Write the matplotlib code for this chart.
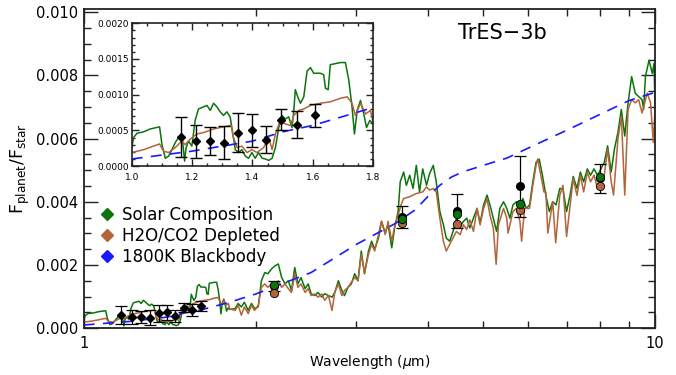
import numpy as np
import matplotlib
matplotlib.use("Agg")
import matplotlib.pyplot as plt
from matplotlib.lines import Line2D
from matplotlib.ticker import FixedLocator, MultipleLocator, NullFormatter

# solar composition model (wavelength in micron, Fp/Fs)
solar_wl = [1.000, 1.006, 1.017, 1.039, 1.061, 1.092, 1.100, 1.111, 1.122, 1.133,
            1.144, 1.155, 1.166, 1.172, 1.175, 1.180, 1.188, 1.199, 1.210, 1.221,
            1.249, 1.260, 1.271, 1.282, 1.293, 1.304, 1.315, 1.326, 1.335, 1.343,
            1.354, 1.365, 1.376, 1.387, 1.398, 1.409, 1.420, 1.432, 1.443, 1.454,
            1.465, 1.476, 1.487, 1.498, 1.509, 1.520, 1.531, 1.537, 1.542, 1.550,
            1.559, 1.570, 1.581, 1.592, 1.603, 1.625, 1.636, 1.642, 1.651, 1.658,
            1.692, 1.708, 1.719, 1.730, 1.738, 1.747, 1.758, 1.769, 1.778, 1.789,
            1.800, 1.84, 1.863, 1.887, 1.91, 1.94, 1.966, 1.99, 2.02, 2.046,
            2.074, 2.10, 2.13, 2.16, 2.19, 2.22, 2.25, 2.28, 2.31, 2.34,
            2.37, 2.40, 2.44, 2.47, 2.50, 2.54, 2.57, 2.61, 2.64, 2.68,
            2.72, 2.75, 2.79, 2.83, 2.86, 2.90, 2.94, 2.98, 3.02, 3.06,
            3.10, 3.15, 3.19, 3.23, 3.28, 3.32, 3.37, 3.41, 3.46, 3.50,
            3.55, 3.58, 3.63, 3.67, 3.72, 3.77, 3.82, 3.87, 3.92, 3.98,
            4.03, 4.09, 4.14, 4.20, 4.26, 4.31, 4.37, 4.43, 4.49, 4.56,
            4.62, 4.68, 4.74, 4.81, 4.88, 4.94, 5.01, 5.08, 5.14, 5.21,
            5.28, 5.35, 5.43, 5.50, 5.57, 5.64, 5.72, 5.80, 5.87, 5.95,
            6.03, 6.11, 6.19, 6.27, 6.35, 6.44, 6.53, 6.62, 6.71, 6.81,
            6.90, 7.00, 7.10, 7.19, 7.30, 7.40, 7.50, 7.61, 7.71, 7.82,
            7.93, 8.04, 8.15, 8.26, 8.38, 8.49, 8.61, 8.73, 8.85, 8.97,
            9.10, 9.23, 9.36, 9.49, 9.55, 9.62, 9.76, 9.89, 9.96, 10.0]
solar_fp = [0.00026, 0.00040, 0.00046, 0.00048, 0.00052, 0.00055, 0.00030, 0.00011, 0.00014, 0.00023,
            0.00033, 0.00040, 0.00045, 0.00019, 0.00007, 0.00026, 0.00035, 0.00028, 0.00064, 0.00080,
            0.00085, 0.00078, 0.00088, 0.00083, 0.00076, 0.00071, 0.00076, 0.00069, 0.00045, 0.00023,
            0.00019, 0.00023, 0.00014, 0.00011, 0.00019, 0.00011, 0.00019, 0.00011, 0.00010, 0.00008,
            0.00011, 0.00026, 0.00054, 0.00071, 0.00066, 0.00069, 0.00054, 0.00078, 0.00107, 0.00097,
            0.00088, 0.00097, 0.00133, 0.00138, 0.00130, 0.00130, 0.00128, 0.00109, 0.00107, 0.00142,
            0.00145, 0.00145, 0.00121, 0.00083, 0.00045, 0.00078, 0.00092, 0.00073, 0.00054, 0.00064,
            0.00059, 0.00062, 0.00078, 0.00067, 0.00082, 0.00056, 0.00078, 0.00062, 0.00067, 0.00150,
            0.00176, 0.00172, 0.00187, 0.00197, 0.00203, 0.00160, 0.00140, 0.00150, 0.00119, 0.00192,
            0.00140, 0.00160, 0.00125, 0.00140, 0.00109, 0.00103, 0.00113, 0.00098, 0.00109, 0.00103,
            0.00098, 0.00113, 0.00150, 0.00119, 0.00103, 0.00129, 0.00140, 0.00172, 0.00150, 0.00244,
            0.00172, 0.00244, 0.00275, 0.00250, 0.00285, 0.00338, 0.00301, 0.00328, 0.00254, 0.00317,
            0.00369, 0.00463, 0.00494, 0.00452, 0.00484, 0.00442, 0.00515, 0.00431, 0.00504, 0.00452,
            0.00489, 0.00515, 0.00463, 0.00369, 0.00328, 0.00285, 0.00275, 0.00306, 0.00348, 0.00322,
            0.00338, 0.00348, 0.00317, 0.00348, 0.00379, 0.00332, 0.00390, 0.00421, 0.00390, 0.00348,
            0.00306, 0.00379, 0.00400, 0.00379, 0.00348, 0.00390, 0.00400, 0.00384, 0.00410, 0.00379,
            0.00390, 0.00463, 0.00525, 0.00535, 0.00484, 0.00420, 0.00369, 0.00400, 0.00390, 0.00442,
            0.00440, 0.00369, 0.00421, 0.00480, 0.00442, 0.00494, 0.00463, 0.00504, 0.00484, 0.00504,
            0.00484, 0.00504, 0.00525, 0.00577, 0.00494, 0.00567, 0.00619, 0.00692, 0.00608, 0.00713,
            0.00796, 0.00744, 0.00733, 0.00723, 0.00692, 0.00796, 0.00848, 0.00806, 0.00838, 0.00692]

# H2O/CO2 depleted model
depl_wl = [1.000, 1.039, 1.072, 1.092, 1.105, 1.122, 1.144, 1.166, 1.177, 1.194,
           1.216, 1.238, 1.271, 1.304, 1.329, 1.337, 1.349, 1.365, 1.382, 1.398,
           1.415, 1.437, 1.454, 1.465, 1.476, 1.492, 1.509, 1.526, 1.537, 1.553,
           1.570, 1.592, 1.625, 1.658, 1.692, 1.714, 1.730, 1.741, 1.758, 1.775,
           1.791, 1.800, 1.84, 1.863, 1.887, 1.91, 1.94, 1.966, 1.99, 2.02,
           2.046, 2.074, 2.10, 2.13, 2.16, 2.19, 2.22, 2.25, 2.28, 2.31,
           2.34, 2.37, 2.40, 2.44, 2.47, 2.50, 2.54, 2.57, 2.61, 2.64,
           2.68, 2.72, 2.75, 2.79, 2.83, 2.86, 2.90, 2.94, 2.98, 3.02,
           3.06, 3.10, 3.15, 3.19, 3.23, 3.28, 3.32, 3.37, 3.41, 3.46,
           3.50, 3.55, 3.60, 3.63, 3.72, 3.82, 3.92, 3.98, 4.03, 4.09,
           4.14, 4.20, 4.26, 4.31, 4.37, 4.43, 4.49, 4.56, 4.62, 4.68,
           4.74, 4.81, 4.88, 4.94, 5.01, 5.08, 5.14, 5.21, 5.27, 5.32,
           5.43, 5.50, 5.53, 5.64, 5.72, 5.80, 5.84, 5.91, 6.03, 6.11,
           6.19, 6.23, 6.31, 6.39, 6.44, 6.49, 6.62, 6.70, 6.81, 6.90,
           7.00, 7.19, 7.30, 7.40, 7.50, 7.61, 7.71, 7.82, 7.93, 8.04,
           8.15, 8.26, 8.38, 8.46, 8.61, 8.73, 8.85, 8.97, 9.10, 9.23,
           9.36, 9.49, 9.62, 9.69, 9.82, 9.93, 10.0]
depl_fp = [0.00019, 0.00023, 0.00028, 0.00031, 0.00021, 0.00019, 0.00026, 0.00035, 0.00030, 0.00038,
           0.00045, 0.00047, 0.00052, 0.00055, 0.00057, 0.00040, 0.00026, 0.00028, 0.00019, 0.00023,
           0.00019, 0.00026, 0.00040, 0.00023, 0.00045, 0.00064, 0.00059, 0.00057, 0.00071, 0.00078,
           0.00080, 0.00085, 0.00088, 0.00090, 0.00095, 0.00097, 0.00088, 0.00071, 0.00088, 0.00073,
           0.00078, 0.00061, 0.00056, 0.00072, 0.00041, 0.00067, 0.00046, 0.00072, 0.00056, 0.00072,
           0.00129, 0.00140, 0.00129, 0.00140, 0.00129, 0.00150, 0.00129, 0.00140, 0.00125, 0.00113,
           0.00172, 0.00129, 0.00140, 0.00113, 0.00125, 0.00103, 0.00108, 0.00098, 0.00108, 0.00088,
           0.00103, 0.00056, 0.00113, 0.00140, 0.00103, 0.00119, 0.00129, 0.00145, 0.00160, 0.00150,
           0.00233, 0.00176, 0.00233, 0.00265, 0.00244, 0.00296, 0.00338, 0.00296, 0.00338, 0.00275,
           0.00322, 0.00358, 0.00395, 0.00410, 0.00416, 0.00426, 0.00431, 0.00447, 0.00437, 0.00442,
           0.00431, 0.00348, 0.00275, 0.00244, 0.00265, 0.00285, 0.00306, 0.00296, 0.00327, 0.00312,
           0.00343, 0.00306, 0.00379, 0.00327, 0.00379, 0.00410, 0.00358, 0.00317, 0.00202, 0.00327,
           0.00379, 0.00348, 0.00301, 0.00369, 0.00379, 0.00338, 0.00275, 0.00379, 0.00379, 0.00452,
           0.00515, 0.00535, 0.00484, 0.00431, 0.00431, 0.00301, 0.00400, 0.00270, 0.00420, 0.00452,
           0.00290, 0.00473, 0.00420, 0.00484, 0.00431, 0.00494, 0.00463, 0.00484, 0.00442, 0.00473,
           0.00484, 0.00567, 0.00463, 0.00421, 0.00598, 0.00671, 0.00421, 0.00692, 0.00723, 0.00713,
           0.00723, 0.00681, 0.00723, 0.00744, 0.00713, 0.00588, 0.00692]

# 1800K blackbody
bb_wl = [1.0, 1.2, 1.4, 1.5, 1.6, 1.8, 2.0, 2.5, 3.0, 3.5, 3.8, 4.0, 4.2, 4.4,
         4.6, 5.0, 5.5, 6.0, 7.0, 8.0, 9.0, 10.0]
bb_fp = [0.00010, 0.00021, 0.00035, 0.00048, 0.00057, 0.00082, 0.00108, 0.00176,
         0.00265, 0.00330, 0.00374, 0.00416, 0.00452, 0.00478, 0.00494, 0.00515,
         0.00538, 0.00570, 0.00626, 0.00676, 0.00720, 0.00746]

# near-IR spectrophotometry (diamonds)
nir_wl = [1.163, 1.212, 1.260, 1.306, 1.352, 1.398, 1.446, 1.496, 1.549, 1.606]
nir_fp = [0.00041, 0.00035, 0.00035, 0.00033, 0.00047, 0.00050, 0.00037, 0.00065, 0.00058, 0.00071]
nir_err = [0.00028, 0.00023, 0.00020, 0.00023, 0.00027, 0.00023, 0.00019, 0.00015, 0.00019, 0.00016]

# broadband eclipse depths (Ks + IRAC) and band-averaged models
band_wl = [2.15, 3.6, 4.5, 5.8, 8.0]
band_fp = [0.00133, 0.00352, 0.00372, 0.00449, 0.00475]
band_err = [0.00017, 0.00035, 0.00054, 0.00097, 0.00046]
band_solar = [0.00137, 0.00345, 0.00361, 0.00392, 0.00478]
band_depl = [0.00112, 0.00333, 0.00329, 0.00374, 0.00450]

green = "#0b740b"
brown = "#b2643a"
blue = "#1a1aff"

fig = plt.figure(figsize=(6.76, 3.75), dpi=100)
ax = fig.add_axes([0.124, 0.125, 0.845, 0.851])


def draw_models(a, lw):
    a.plot(solar_wl, solar_fp, color=green, lw=lw, zorder=2)
    a.plot(depl_wl, depl_fp, color=brown, lw=lw, zorder=2)
    a.plot(bb_wl, bb_fp, color=blue, lw=1.2, dashes=(6.5, 5), zorder=3)


draw_models(ax, 1.1)
ax.errorbar(nir_wl, nir_fp, yerr=nir_err, fmt="D", color="black", ms=4,
            capsize=4, elinewidth=0.9, capthick=0.9, zorder=4)
ax.errorbar(band_wl, band_fp, yerr=band_err, fmt="o", color="black", ms=5.5,
            capsize=4, elinewidth=0.9, capthick=0.9, zorder=4)
ax.plot(band_wl, band_depl, "o", mfc=brown, mec="black", mew=0.6, ms=6, zorder=5)
ax.plot(band_wl, band_solar, "o", mfc=green, mec="black", mew=0.6, ms=6, zorder=6)

ax.set_xscale("log")
ax.set_xlim(1, 10)
ax.set_ylim(0, 0.0101)
ax.xaxis.set_major_locator(FixedLocator([1, 10]))
ax.set_xticklabels(["1", "10"])
ax.xaxis.set_minor_locator(FixedLocator([2, 3, 4, 5, 6, 7, 8, 9]))
ax.xaxis.set_minor_formatter(NullFormatter())
ax.yaxis.set_major_locator(MultipleLocator(0.002))
ax.yaxis.set_minor_locator(MultipleLocator(0.0005))
ax.yaxis.set_major_formatter(matplotlib.ticker.FormatStrFormatter("%.3f"))
ax.tick_params(which="both", direction="in", top=True, right=True,
               labelsize=10.5, color="#222222")
ax.tick_params(which="major", length=10, width=1)
ax.tick_params(which="minor", length=5, width=1)
ax.tick_params(axis="x", pad=6)
ax.tick_params(axis="y", pad=4)
for s in ax.spines.values():
    s.set_linewidth(1.3)
    s.set_color("#222222")

ax.set_xlabel(r"Wavelength ($\mu$m)", fontsize=10, labelpad=1)
ax.set_ylabel(r"F$_{\rm planet}$/F$_{\rm star}$", fontsize=12.5, labelpad=3)
ax.text(0.732, 0.925, "TrES\u22123b", transform=ax.transAxes, fontsize=15,
        ha="center", va="center")

handles = [
    Line2D([], [], ls="none", marker="D", color=green, ms=6),
    Line2D([], [], ls="none", marker="D", color=brown, ms=6),
    Line2D([], [], ls="none", marker="D", color=blue, ms=6),
]
ax.legend(handles, ["Solar Composition", "H2O/CO2 Depleted", "1800K Blackbody"],
          loc="upper left", bbox_to_anchor=(0.018, 0.405), frameon=False,
          fontsize=12, handlelength=0.8, handletextpad=0.45, labelspacing=0.2,
          borderaxespad=0.2, borderpad=0.2)

# inset zoom on the near-IR points
ins = fig.add_axes([0.195, 0.557, 0.357, 0.381])
draw_models(ins, 1.1)
ins.errorbar(nir_wl, nir_fp, yerr=nir_err, fmt="D", color="black", ms=4.5,
             capsize=4.5, elinewidth=1.0, capthick=1.0, zorder=4)
ins.set_xlim(1.0, 1.8)
ins.set_ylim(0, 0.002)
ins.xaxis.set_major_locator(MultipleLocator(0.2))
ins.xaxis.set_minor_locator(MultipleLocator(0.05))
ins.yaxis.set_major_locator(MultipleLocator(0.0005))
ins.yaxis.set_minor_locator(MultipleLocator(0.0001))
ins.xaxis.set_major_formatter(matplotlib.ticker.FormatStrFormatter("%.1f"))
ins.yaxis.set_major_formatter(matplotlib.ticker.FormatStrFormatter("%.4f"))
ins.tick_params(which="both", direction="in", top=True, right=True,
                labelsize=6.5, color="#222222")
ins.tick_params(which="major", length=5, width=1)
ins.tick_params(which="minor", length=2.5, width=1)
ins.tick_params(axis="x", pad=5)
ins.tick_params(axis="y", pad=2)
for s in ins.spines.values():
    s.set_linewidth(1.2)
    s.set_color("#222222")

fig.savefig("out.png", dpi=100)
